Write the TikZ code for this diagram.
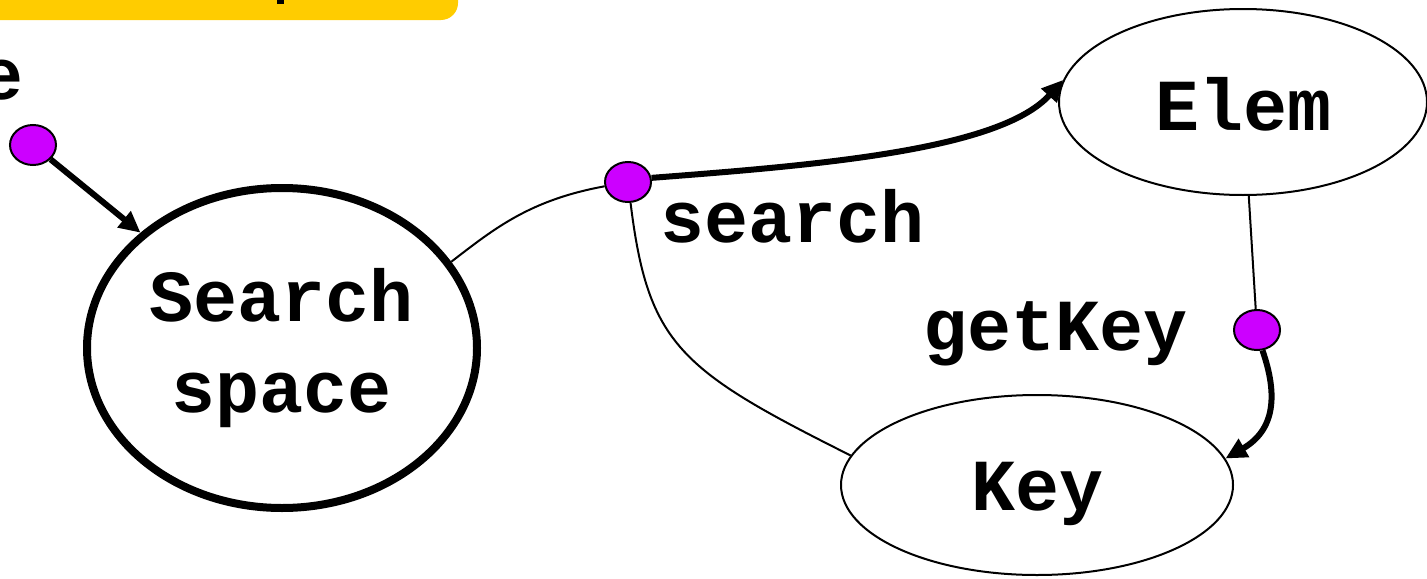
\documentclass[tikz,border=0pt]{standalone}
\usepackage{fontspec}
\setmonofont{Liberation Mono}
\usepackage{xcolor}
\usetikzlibrary{shapes.geometric,arrows.meta}
\definecolor{portmag}{HTML}{CC00FF}
\definecolor{tabyellow}{HTML}{FFCC00}

\begin{document}
\begin{tikzpicture}[x=0.75pt,y=0.75pt,yscale=-1,xscale=1,
    txt/.style={font=\ttfamily\bfseries\fontsize{55}{68}\selectfont, inner sep=0pt},
    blob/.style={ellipse, draw, line width=1.5pt, inner sep=0pt, txt},
    port/.style={ellipse, draw, line width=1.5pt, fill=portmag, minimum width=34.5pt, minimum height=30pt, inner sep=0pt},
    link/.style={line width=1.5pt},
    push/.style={line width=4.5pt, -{Triangle[length=16pt,width=15pt]}}]
    \useasboundingbox (0,0) rectangle (1427,578);

    %Shape: Title Tab
    \fill [tabyellow, rounded corners=12.75pt] (-60,-60) rectangle (458,20);
    \fill (277,-2) rectangle (284,4);
    % Text Node
    \node [txt, anchor=base east] (tail) at (24,99) {e};

    %Shape: Ellipse
    \node [blob, line width=6pt, minimum width=292.5pt, minimum height=240pt, align=center] (space) at (282,348) {Search\\space};
    %Shape: Ellipse
    \node [blob, minimum width=276pt, minimum height=139.5pt, text height=42pt, text depth=0pt] (elem) at (1243,102) {Elem};
    %Shape: Ellipse
    \node [blob, minimum width=294pt, minimum height=135pt, text height=37.5pt, text depth=0pt] (key) at (1037,485) {Key};

    %Shape: Ports
    \node [port] (p1) at (33,145) {};
    \node [port] (p2) at (628,182) {};
    \node [port] (p3) at (1257,330) {};

    % Text Node
    \node [txt, anchor=base] (searchlbl) at (793,242) {search};
    % Text Node
    \node [txt, anchor=base] (getkeylbl) at (1056,350) {getKey};

    %Curve Lines
    \draw [push] (p1) -- (space);
    \draw [link] (space.27) .. controls (495,228) and (530,200) .. (p2);
    \draw [push] (p2.10) .. controls (820,165) and (1000,150) .. (elem.173);
    \draw [link] (p2) .. controls (648,345) and (680,370) .. (key.171);
    \draw [link] (elem) -- (p3);
    \draw [push] (p3.-75) .. controls (1278,395) and (1275,430) .. (key.8);

\end{tikzpicture}
\end{document}
